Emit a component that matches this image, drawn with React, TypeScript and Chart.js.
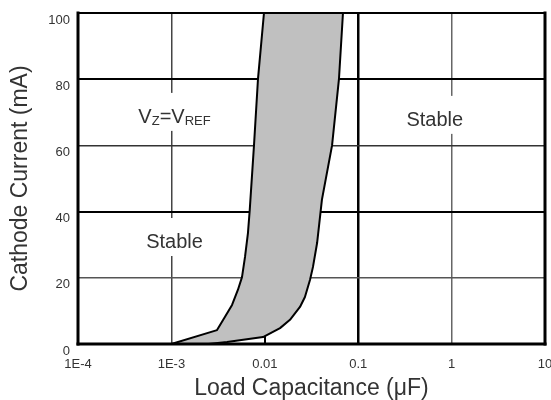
import React, { useEffect, useRef } from 'react';
import { Chart, registerables } from 'chart.js';

Chart.register(...registerables);

// ---- data ----
const xTickValues = [1e-4, 1e-3, 0.01, 0.1, 1, 10];
const xTickLabels = ['1E-4', '1E-3', '0.01', '0.1', '1', '10'];
const yTickValues = [0, 20, 40, 60, 80, 100];

// left boundary of the unstable region (bottom -> top)
const leftBoundaryCap = [0.001, 0.00308, 0.00375, 0.00446, 0.00516, 0.0057, 0.00614, 0.0066, 0.0069, 0.00766, 0.00845, 0.0098];
const leftBoundaryCurrent = [0, 4.2, 8.2, 11.8, 16.4, 20.2, 26.3, 33.5, 40.5, 60, 80, 100];

// right boundary of the unstable region (top -> bottom)
const rightBoundaryCap = [0.0687, 0.0622, 0.0525, 0.0409, 0.0363, 0.0328, 0.0305, 0.0269, 0.0238, 0.0186, 0.01456, 0.00957, 0.00394, 0.0025];
const rightBoundaryCurrent = [100, 80, 60, 43.6, 30.5, 23.3, 19.4, 14.2, 11.2, 7.3, 4.8, 2.1, 0.6, 0];

// region labels
const regionLabelText = ['VZ=VREF', 'Stable', 'Stable'];
const regionLabelCap = [0.00108, 0.00108, 0.66];
const regionLabelCurrent = [66.8, 29, 65.9];

// ---- styles ----
const FONT = '"Liberation Sans", Arial, Helvetica, sans-serif';
const TEXT = '#333';
const xGridColors = ['rgba(0,0,0,0)', '#444', '#000', '#000', '#666', 'rgba(0,0,0,0)'];
const xGridWidths = [1, 1.5, 2, 2.5, 1.5, 1];
const yGridColors = ['rgba(0,0,0,0)', '#555', '#000', '#333', '#000', 'rgba(0,0,0,0)'];
const yGridWidths = [1, 1.5, 2, 1.5, 2, 1];

const overlayPlugin = {
  id: 'overlay',
  afterDatasetsDraw(chart: any) {
    const { ctx, chartArea } = chart;
    const xs = chart.scales.x;
    const ys = chart.scales.y;
    ctx.save();
    // region labels with white backgrounds that interrupt the grid
    regionLabelText.forEach((label, i) => {
      const px = xs.getPixelForValue(regionLabelCap[i]);
      const py = ys.getPixelForValue(regionLabelCurrent[i]);
      let parts: { t: string; size: number; dy: number }[];
      if (label === 'VZ=VREF') {
        parts = [
          { t: 'V', size: 20, dy: 0 },
          { t: 'Z', size: 13, dy: 2 },
          { t: '=V', size: 20, dy: 0 },
          { t: 'REF', size: 13, dy: 2 },
        ];
      } else {
        parts = [{ t: label, size: 20, dy: 0 }];
      }
      let w = 0;
      parts.forEach((p) => {
        ctx.font = `${p.size}px ${FONT}`;
        w += ctx.measureText(p.t).width;
      });
      ctx.fillStyle = '#fff';
      ctx.fillRect(px - w / 2 - 3, py - 30, w + 6, 38);
      ctx.fillStyle = TEXT;
      ctx.textBaseline = 'alphabetic';
      ctx.textAlign = 'left';
      let cx = px - w / 2;
      parts.forEach((p) => {
        ctx.font = `${p.size}px ${FONT}`;
        ctx.fillText(p.t, cx, py + p.dy);
        cx += ctx.measureText(p.t).width;
      });
    });
    // frame
    ctx.strokeStyle = '#000';
    ctx.lineCap = 'square';
    const { left, right, top, bottom } = chartArea;
    const line = (x1: number, y1: number, x2: number, y2: number, lw: number) => {
      ctx.lineWidth = lw;
      ctx.beginPath();
      ctx.moveTo(x1, y1);
      ctx.lineTo(x2, y2);
      ctx.stroke();
    };
    line(left, top, right, top, 2);
    line(right, top, right, bottom, 3);
    line(left, bottom, right, bottom, 3);
    line(left, top, left, bottom, 3);
    ctx.restore();
  },
};

export default function App() {
  const ref = useRef<HTMLCanvasElement>(null);
  useEffect(() => {
    const polygon = [
      ...leftBoundaryCap.map((c, i) => ({ x: c, y: leftBoundaryCurrent[i] })),
      ...rightBoundaryCap.map((c, i) => ({ x: c, y: rightBoundaryCurrent[i] })),
    ];
    const chart = new Chart(ref.current as HTMLCanvasElement, {
      type: 'line',
      data: {
        datasets: [
          {
            data: polygon,
            borderColor: '#000',
            borderWidth: 2,
            backgroundColor: '#c0c0c0',
            fill: 'shape',
            pointRadius: 0,
            tension: 0,
            borderJoinStyle: 'round',
          } as any,
        ],
      },
      options: {
        responsive: false,
        animation: false,
        layout: { padding: { top: 13, right: 6, left: 0, bottom: 0 } },
        plugins: { legend: { display: false }, tooltip: { enabled: false } },
        scales: {
          x: {
            type: 'logarithmic',
            min: 1e-4,
            max: 10,
            afterBuildTicks: (s: any) => {
              s.ticks = xTickValues.map((v) => ({ value: v }));
            },
            afterFit: (s: any) => {
              s.height = 56;
              s.paddingLeft = 0;
              s.paddingRight = 0;
            },
            ticks: {
              autoSkip: false,
              maxRotation: 0,
              padding: 13,
              color: TEXT,
              font: { family: FONT, size: 13 },
              callback: (v: any) => {
                const i = xTickValues.findIndex((t) => Math.abs(Math.log10(t) - Math.log10(Number(v))) < 1e-6);
                return i >= 0 ? xTickLabels[i] : '';
              },
            },
            grid: {
              drawTicks: false,
              color: (c: any) => xGridColors[c.index] ?? 'rgba(0,0,0,0)',
              lineWidth: (c: any) => xGridWidths[c.index] ?? 1,
            },
            border: { display: false },
            title: {
              display: true,
              text: 'Load Capacitance (μF)',
              color: TEXT,
              font: { family: FONT, size: 23, lineHeight: 1 },
              padding: { top: 0, bottom: 0 },
            },
          } as any,
          y: {
            type: 'linear',
            min: 0,
            max: 100,
            afterBuildTicks: (s: any) => {
              s.ticks = yTickValues.map((v) => ({ value: v }));
            },
            afterFit: (s: any) => {
              s.width = 78;
              s.paddingTop = 0;
              s.paddingBottom = 0;
            },
            ticks: {
              padding: 8,
              labelOffset: 7,
              color: TEXT,
              font: { family: FONT, size: 13 },
            },
            grid: {
              drawTicks: false,
              color: (c: any) => yGridColors[c.index] ?? 'rgba(0,0,0,0)',
              lineWidth: (c: any) => yGridWidths[c.index] ?? 1,
            },
            border: { display: false },
            title: {
              display: true,
              text: 'Cathode Current (mA)',
              color: TEXT,
              font: { family: FONT, size: 23, lineHeight: 1 },
              padding: { top: 9, bottom: 0 },
            },
          } as any,
        },
      },
      plugins: [overlayPlugin],
    });
    return () => chart.destroy();
  }, []);
  return (
    <div style={{ position: 'fixed', left: 0, top: 0, width: 551, height: 400, background: '#fff' }}>
      <canvas ref={ref} width={551} height={400} style={{ display: 'block' }} />
    </div>
  );
}
